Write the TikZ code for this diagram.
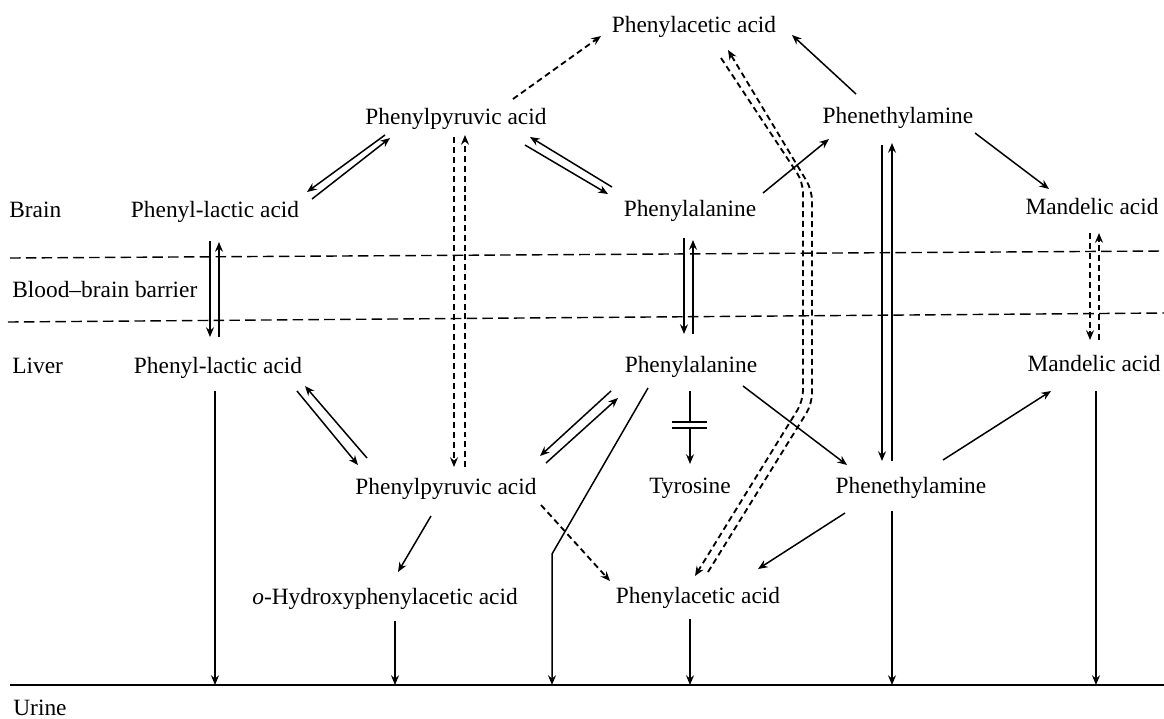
\documentclass[tikz,border=0pt]{standalone}
\usepackage{fontspec}
\setmainfont{Liberation Serif}
\usepackage{tikz}
\usetikzlibrary{arrows.meta, calc}

\tikzset{
  chem/.style={font=\fontsize{13.3}{16}\selectfont, inner sep=0pt, anchor=base},
  zona/.style={chem, anchor=base west},
  via/.style={-{Stealth[length=5.5pt,width=4.5pt,inset=1.8pt]}, line width=0.85pt},
  viadash/.style={via, line width=1.05pt, dash pattern=on 3.4pt off 2.2pt},
  barriera/.style={line width=0.8pt, dash pattern=on 6pt off 3pt},
}

\begin{document}
\begin{tikzpicture}[x=0.02cm, y=-0.02cm]
    \useasboundingbox (0,0) rectangle (1164,718);

    % Zone
    \node[zona] (brain) at (9,217) {Brain};
    \node[zona] (bbb) at (12,297) {Blood–brain barrier};
    \node[zona] (liver) at (12,373) {Liver};
    \node[zona] (urine) at (13,715) {Urine};

    % Barriera e linea dell'urina
    \draw[barriera] (10,258) -- (1164,251);
    \draw[barriera] (8,322) -- (1164,313);
    \coordinate (urineL) at (10,685);
    \coordinate (urineR) at (1164,685);
    \draw[line width=1.1pt] (urineL) -- (urineR);

    % Cervello
    \node[chem] (pacTop) at (694,32) {Phenylacetic acid};
    \node[chem] (ppaTop) at (456,124) {Phenylpyruvic acid};
    \node[chem] (pheaTop) at (898,123) {Phenethylamine};
    \node[chem] (plaBrain) at (215,217) {Phenyl-lactic acid};
    \node[chem] (palBrain) at (690,216) {Phenylalanine};
    \node[chem] (mandBrain) at (1092,214) {Mandelic acid};

    % Fegato
    \node[chem] (plaLiver) at (218,373) {Phenyl-lactic acid};
    \node[chem] (palLiver) at (691,372) {Phenylalanine};
    \node[chem] (mandLiver) at (1094,371) {Mandelic acid};
    \node[chem] (ppaLiver) at (446,494) {Phenylpyruvic acid};
    \node[chem] (tyr) at (690,493) {Tyrosine};
    \node[chem] (pheaLiver) at (911,493) {Phenethylamine};
    \node[chem] (ohpa) at (385,604) {\textit{o}-Hydroxyphenylacetic acid};
    \node[chem] (pacLiver) at (698,603) {Phenylacetic acid};

    % Connessioni nel cervello
    \draw[viadash] ([shift={(57,-25)}]ppaTop.base) -- ([shift={(-93,4)}]pacTop.base);
    \draw[via] ([shift={(-42,-29)}]pheaTop.base) -- ([shift={(98,3)}]pacTop.base);
    \draw[via] ([shift={(77,10)}]pheaTop.base) -- ([shift={(-43,-25)}]mandBrain.base);
    \draw[via] ([shift={(73,-23)}]palBrain.base) -- ([shift={(-69,16)}]pheaTop.base);
    \draw[via] ([shift={(-71,11)}]ppaTop.base) -- ([shift={(92,-25)}]plaBrain.base);
    \draw[via] ([shift={(97,-18)}]plaBrain.base) -- ([shift={(-66,14)}]ppaTop.base);
    \draw[via] ([shift={(-78,-29)}]palBrain.base) -- ([shift={(74,13)}]ppaTop.base);
    \draw[via] ([shift={(69,21)}]ppaTop.base) -- ([shift={(-82,-22)}]palBrain.base);

    % Attraverso la barriera
    \draw[via] ([shift={(-5,24)}]plaBrain.base) -- ([shift={(-8,-36)}]plaLiver.base);
    \draw[via] ([shift={(1,-36)}]plaLiver.base) -- ([shift={(4,25)}]plaBrain.base);
    \draw[viadash] ([shift={(-2,13)}]ppaTop.base) -- ([shift={(8,-27)}]ppaLiver.base);
    \draw[viadash] ([shift={(19,-27)}]ppaLiver.base) -- ([shift={(9,11)}]ppaTop.base);
    \draw[via] ([shift={(-6,22)}]palBrain.base) -- ([shift={(-7,-38)}]palLiver.base);
    \draw[via] ([shift={(2,-38)}]palLiver.base) -- ([shift={(3,24)}]palBrain.base);
    \draw[via] ([shift={(-16,22)}]pheaTop.base) -- ([shift={(-29,-32)}]pheaLiver.base);
    \draw[via] ([shift={(-19,-32)}]pheaLiver.base) -- ([shift={(-6,20)}]pheaTop.base);
    \draw[viadash] ([shift={(-2,19)}]mandBrain.base) -- ([shift={(-4,-31)}]mandLiver.base);
    \draw[viadash] ([shift={(5,-31)}]mandLiver.base) -- ([shift={(7,19)}]mandBrain.base);
    \draw[viadash, rounded corners=6pt] ([shift={(27,26)}]pacTop.base) -- ++(82,124) -- ++(0,219) -- ([shift={(-3,-27)}]pacLiver.base);
    \draw[viadash, rounded corners=6pt] ([shift={(10,-31)}]pacLiver.base) -- ++(104,-168) -- ++(0,-214) -- ([shift={(34,18)}]pacTop.base);

    % Connessioni nel fegato
    \draw[via] ([shift={(-79,-36)}]ppaLiver.base) -- ([shift={(87,13)}]plaLiver.base);
    \draw[via] ([shift={(79,18)}]plaLiver.base) -- ([shift={(-88,-29)}]ppaLiver.base);
    \draw[via] ([shift={(-80,19)}]palLiver.base) -- ([shift={(94,-38)}]ppaLiver.base);
    \draw[via] ([shift={(100,-31)}]ppaLiver.base) -- ([shift={(-73,26)}]palLiver.base);
    \draw[via] ([shift={(52,14)}]palLiver.base) -- ([shift={(-64,-28)}]pheaLiver.base);
    \draw[via] ([shift={(32,-33)}]pheaLiver.base) -- ([shift={(-43,20)}]mandLiver.base);
    \draw[via] ([shift={(-66,20)}]pheaLiver.base) -- ([shift={(60,-34)}]pacLiver.base);
    \draw[viadash] ([shift={(95,11)}]ppaLiver.base) -- ([shift={(-88,-22)}]pacLiver.base);
    \draw[via] ([shift={(-15,22)}]ppaLiver.base) -- ([shift={(13,-32)}]ohpa.base);

    % Blocco verso la tirosina
    \draw[line width=0.85pt] ([shift={(-1,19)}]palLiver.base) -- ++(0,31) coordinate (blockTop);
    \draw[via] ([shift={(0,6)}]blockTop) -- ([shift={(0,-29)}]tyr.base);
    \draw[line width=0.85pt] ([shift={(-18,0)}]blockTop) -- ([shift={(17,0)}]blockTop)
        ([shift={(-18,6)}]blockTop) -- ([shift={(17,6)}]blockTop);

    % Verso l'urina
    \draw[via] ([shift={(-3,18)}]plaLiver.base) coordinate (plaOut) -- (plaOut |- urineL);
    \draw[via] ([shift={(10,17)}]ohpa.base) coordinate (ohpaOut) -- (ohpaOut |- urineL);
    \draw[via] ([shift={(-43,16)}]palLiver.base) -- ++(-96,166) coordinate (palKink) -- (palKink |- urineL);
    \draw[via] ([shift={(-8,16)}]pacLiver.base) coordinate (pacOut) -- (pacOut |- urineL);
    \draw[via] ([shift={(-19,18)}]pheaLiver.base) coordinate (pheaOut) -- (pheaOut |- urineL);
    \draw[via] ([shift={(2,20)}]mandLiver.base) coordinate (mandOut) -- (mandOut |- urineL);
\end{tikzpicture}
\end{document}
